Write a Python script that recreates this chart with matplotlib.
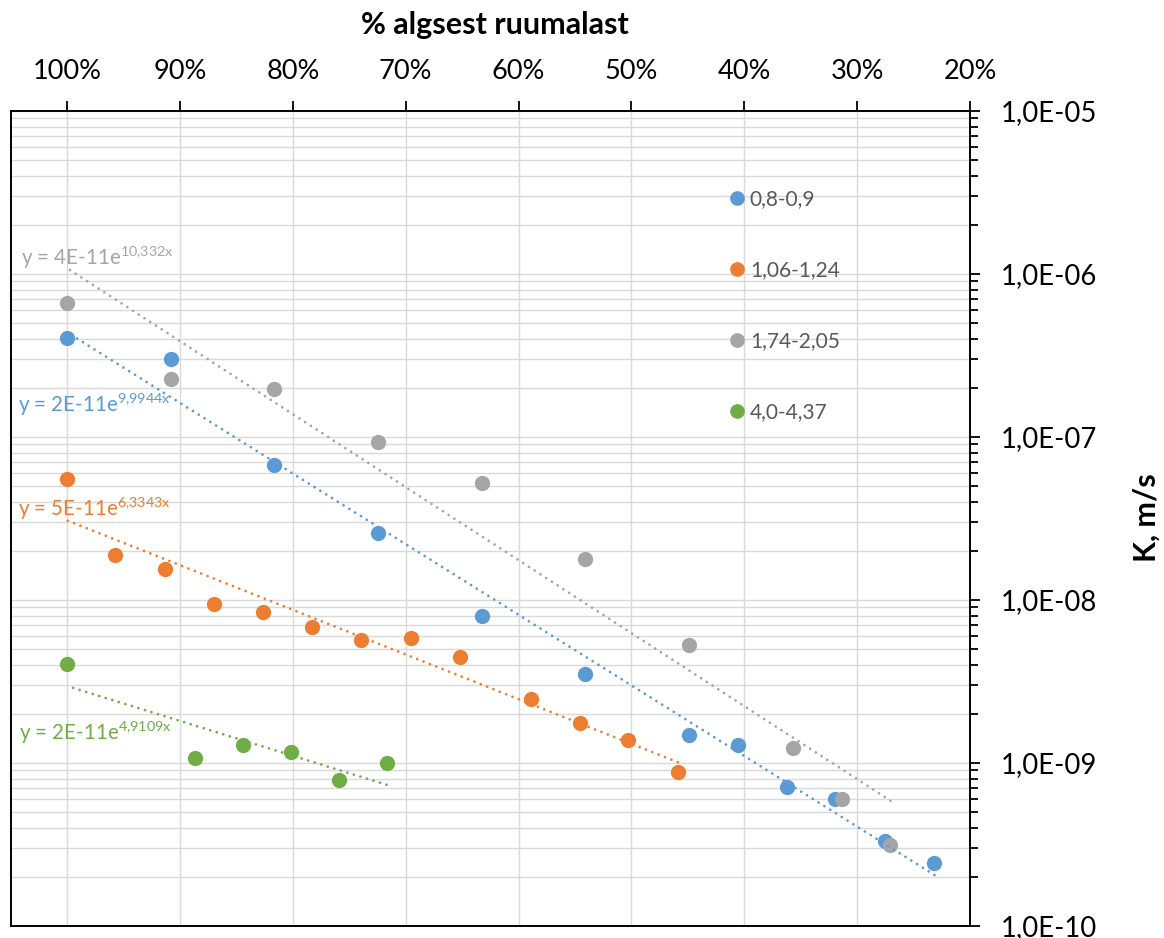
import numpy as np
import matplotlib
matplotlib.use("Agg")
import matplotlib.pyplot as plt
from matplotlib.ticker import FixedLocator, FixedFormatter, NullFormatter

plt.rcParams['font.family'] = ['Lato', 'DejaVu Sans']
plt.rcParams['mathtext.fontset'] = 'custom'
plt.rcParams['mathtext.rm'] = 'Lato'
plt.rcParams['mathtext.it'] = 'Lato:italic'
plt.rcParams['mathtext.bf'] = 'Lato:bold'

# ---------------- data ----------------
series_names = ['0,8-0,9', '1,06-1,24', '1,74-2,05', '4,0-4,37']
colors = ['#5B9BD5', '#ED7D31', '#A5A5A5', '#70AD47']

x_blue = [1.000, 0.9082, 0.8165, 0.7246, 0.6327, 0.5410, 0.4492, 0.4055, 0.3620, 0.3193, 0.2757, 0.2315]
y_blue = [4.02e-7, 2.99e-7, 6.70e-8, 2.56e-8, 7.98e-9, 3.52e-9, 1.49e-9, 1.29e-9, 7.11e-10, 6.03e-10, 3.34e-10, 2.45e-10]

x_orange = [1.000, 0.9572, 0.9137, 0.8699, 0.8262, 0.7827, 0.7393, 0.6957, 0.6520, 0.5893, 0.5454, 0.5026, 0.4590]
y_orange = [5.55e-8, 1.89e-8, 1.55e-8, 9.45e-9, 8.48e-9, 6.80e-9, 5.68e-9, 5.80e-9, 4.45e-9, 2.47e-9, 1.75e-9, 1.38e-9, 8.78e-10]

x_gray = [1.000, 0.9082, 0.8165, 0.7246, 0.6327, 0.5410, 0.4490, 0.3570, 0.3137, 0.2705]
y_gray = [6.62e-7, 2.25e-7, 1.97e-7, 9.35e-8, 5.24e-8, 1.79e-8, 5.26e-9, 1.23e-9, 6.00e-10, 3.13e-10]

x_green = [1.000, 0.8866, 0.8442, 0.8015, 0.7595, 0.7170]
y_green = [4.04e-9, 1.07e-9, 1.29e-9, 1.17e-9, 7.88e-10, 9.97e-10]

trend_labels = [r'y = 2E-11e$^{\mathrm{9{,}9944x}}$',
                r'y = 5E-11e$^{\mathrm{6{,}3343x}}$',
                r'y = 4E-11e$^{\mathrm{10{,}332x}}$',
                r'y = 2E-11e$^{\mathrm{4{,}9109x}}$']

x_ticks = [1.0, 0.9, 0.8, 0.7, 0.6, 0.5, 0.4, 0.3, 0.2]
x_tick_labels = ['100%', '90%', '80%', '70%', '60%', '50%', '40%', '30%', '20%']
y_ticks = [1e-10, 1e-9, 1e-8, 1e-7, 1e-6, 1e-5]
y_tick_labels = ['1,0E-10', '1,0E-09', '1,0E-08', '1,0E-07', '1,0E-06', '1,0E-05']

x_title = '% algsest ruumalast'
y_title = 'K, m/s'

# ---------------- figure ----------------
W, H = 1164, 938
fig = plt.figure(figsize=(W / 100, H / 100), dpi=100)
L, R, T, B = 10.7, 970.0, 110.7, 926.0
ax = fig.add_axes([L / W, 1 - B / H, (R - L) / W, (B - T) / H])

ax.set_yscale('log')
ax.set_xlim(1.05, 0.20)
ax.set_ylim(1e-10, 1e-5)

# grid
grid_c = '#D9D9D9'
ax.xaxis.set_major_locator(FixedLocator(x_ticks))
ax.xaxis.set_major_formatter(FixedFormatter(x_tick_labels))
ax.yaxis.set_major_locator(FixedLocator(y_ticks))
ax.yaxis.set_major_formatter(FixedFormatter(y_tick_labels))
minor = [m * 10.0 ** e for e in range(-10, -5) for m in range(2, 10)]
ax.yaxis.set_minor_locator(FixedLocator(minor))
ax.yaxis.set_minor_formatter(NullFormatter())
ax.grid(axis='x', which='major', color=grid_c, lw=1.0, zorder=0)
ax.grid(axis='y', which='both', color=grid_c, lw=1.0, zorder=0)
ax.set_axisbelow(True)

ax.xaxis.set_ticks_position('top')
ax.yaxis.set_ticks_position('right')
ax.tick_params(axis='x', which='major', direction='out', length=7.2, width=1.3,
               pad=12, labelsize=19.5, colors='black')
ax.tick_params(axis='y', which='major', direction='out', length=7.2, width=1.3,
               pad=15, labelsize=19.8, colors='black')
ax.tick_params(axis='y', which='minor', direction='out', length=5.5, width=1.3)
for s in ax.spines.values():
    s.set_color('black')
    s.set_linewidth(1.4)

# data + trendlines
xs = [x_blue, x_orange, x_gray, x_green]
ys = [y_blue, y_orange, y_gray, y_green]
handles = []
for x, y, c, name in zip(xs, ys, colors, series_names):
    x = np.asarray(x)
    y = np.asarray(y)
    h, = ax.plot(x, y, 'o', ms=11, color=c, mec='none', zorder=3, label=name)
    handles.append(h)
for x, y, c in zip(xs, ys, colors):
    x = np.asarray(x)
    y = np.asarray(y)
    k, b = np.polyfit(x, np.log(y), 1)
    xx = np.linspace(x.min(), x.max(), 200)
    ax.plot(xx, np.exp(b + k * xx), color=c, lw=2.0, linestyle=(0, (0.01, 2.45)),
            dash_capstyle='round', zorder=4)

# trendline equations
eq_pos = [(18.3, 411.7), (18.3, 515.7), (21.0, 265.0), (19.0, 740.0)]
for (px, py), lab, c in zip(eq_pos, trend_labels, colors):
    fig.text(px / W, 1 - py / H, lab, color=c, fontsize=14.8, ha='left', va='baseline')

# legend
leg = ax.legend(handles, series_names, loc='upper left',
                bbox_to_anchor=(729 / W, 1 - 189.5 / H), bbox_transform=fig.transFigure,
                frameon=False, fontsize=15, labelcolor='#595959', handlelength=0.8,
                handletextpad=0.2, labelspacing=2.44, borderpad=0, borderaxespad=0,
                markerscale=0.96)

# axis titles
fig.text(495 / W, 1 - 25 / H, x_title, ha='center', va='center', fontsize=22,
         fontweight='bold', color='black')
fig.text(1147 / W, 1 - 518 / H, y_title, ha='center', va='center', rotation=90,
         fontsize=22, fontweight='bold', color='black')

fig.savefig('out.png', dpi=100, facecolor='white')
